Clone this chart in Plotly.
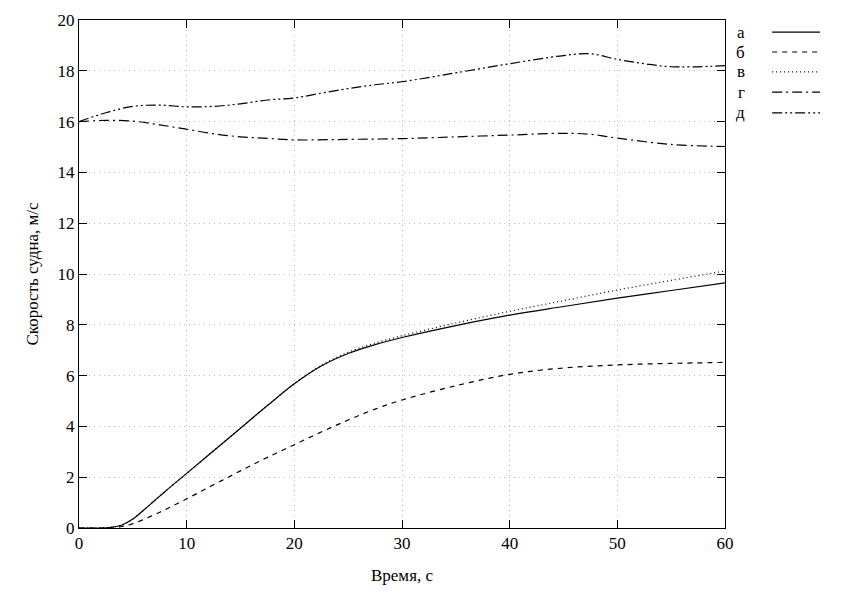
import plotly.graph_objects as go

# ---- data ----
t_a = [0, 2, 3, 4, 5, 6, 7, 8, 10, 12.5, 15, 17.5, 20, 22.5, 25, 27.5, 30, 35, 40, 45, 50, 55, 60]
v_a = [0, 0, 0.03, 0.12, 0.35, 0.7, 1.07, 1.44, 2.15, 3.04, 3.93, 4.82, 5.68, 6.38, 6.87, 7.22, 7.5, 7.97, 8.38, 8.72, 9.05, 9.35, 9.65]

t_v = [0, 2, 3, 4, 5, 6, 7, 8, 10, 12.5, 15, 17.5, 20, 22.5, 25, 27.5, 30, 35, 40, 45, 50, 55, 60]
v_v = [0, 0, 0.03, 0.12, 0.35, 0.7, 1.07, 1.44, 2.15, 3.04, 3.93, 4.82, 5.68, 6.4, 6.92, 7.28, 7.57, 8.07, 8.53, 8.95, 9.37, 9.75, 10.12]

t_b = [0, 2, 3, 4, 5, 7.5, 10, 12.5, 15, 17.5, 20, 22.5, 25, 27.5, 30, 35, 40, 45, 50, 55, 60]
v_b = [0, 0, 0, 0.06, 0.17, 0.62, 1.15, 1.7, 2.25, 2.78, 3.28, 3.78, 4.25, 4.68, 5.04, 5.6, 6.05, 6.3, 6.42, 6.48, 6.52]

t_g = [0, 2.5, 5, 7.5, 10, 12.5, 15, 17.5, 20, 25, 30, 35, 40, 45, 47.5, 50, 55, 60]
v_g = [16, 16.05, 16.02, 15.87, 15.7, 15.52, 15.4, 15.34, 15.28, 15.3, 15.33, 15.4, 15.47, 15.54, 15.5, 15.35, 15.1, 15.02]

t_d = [0, 2.5, 5, 7.5, 10, 12.5, 15, 17.5, 20, 22.5, 25, 27.5, 30, 35, 40, 45, 47.5, 50, 52.5, 55, 60]
v_d = [16, 16.35, 16.6, 16.65, 16.58, 16.6, 16.7, 16.85, 16.93, 17.12, 17.3, 17.45, 17.57, 17.92, 18.28, 18.6, 18.67, 18.45, 18.28, 18.16, 18.2]

names = ["а", "б", "в", "г", "д"]
dashes = ["solid", "5px,5px", "1px,3px", "10px,4px,2px,4px", "10px,3px,2px,3px,2px,3px"]

series = [(t_a, v_a), (t_b, v_b), (t_v, v_v), (t_g, v_g), (t_d, v_d)]

FONT = "'Liberation Serif', 'Times New Roman', 'DejaVu Serif', serif"

fig = go.Figure()
for (tx, vy), nm, ds in zip(series, names, dashes):
    fig.add_trace(go.Scatter(x=tx, y=vy, mode="lines", name=nm,
                             line=dict(color="black", width=1.2, dash=ds, shape="spline", smoothing=1.0),
                             showlegend=False))

# manual legend (label before line sample, gnuplot style)
leg_y = [0.976, 0.937, 0.898, 0.858, 0.817]
for nm, ds, yy in zip(names, dashes, leg_y):
    fig.add_annotation(x=1.034, y=yy, xref="paper", yref="paper", text=nm, showarrow=False,
                       xanchor="right", yanchor="middle", font=dict(family=FONT, size=17, color="black"))
    fig.add_shape(type="line", xref="paper", yref="paper", x0=1.073, x1=1.147, y0=yy, y1=yy,
                  line=dict(color="black", width=1.2, dash=ds))

axis_common = dict(showline=True, linecolor="black", linewidth=1, mirror="allticks",
                   ticks="inside", ticklen=8, tickcolor="black", tickwidth=1,
                   showgrid=True, gridcolor="#bdbdbd", griddash="1px,4px", gridwidth=1,
                   zeroline=False, tickfont=dict(family=FONT, size=17, color="black"))

fig.update_xaxes(range=[0, 60], dtick=10, title=dict(text="Время, с", font=dict(family=FONT, size=17, color="black"), standoff=16), **axis_common)
fig.update_yaxes(range=[0, 20], dtick=2, title=dict(text="Скорость судна, м/с", font=dict(family=FONT, size=17, color="black"), standoff=14), **axis_common)

fig.update_layout(width=841, height=595, margin=dict(l=79, r=116, t=20, b=67),
                  plot_bgcolor="white", paper_bgcolor="white",
                  font=dict(family=FONT, size=17, color="black"))

fig.write_html("out.html")
